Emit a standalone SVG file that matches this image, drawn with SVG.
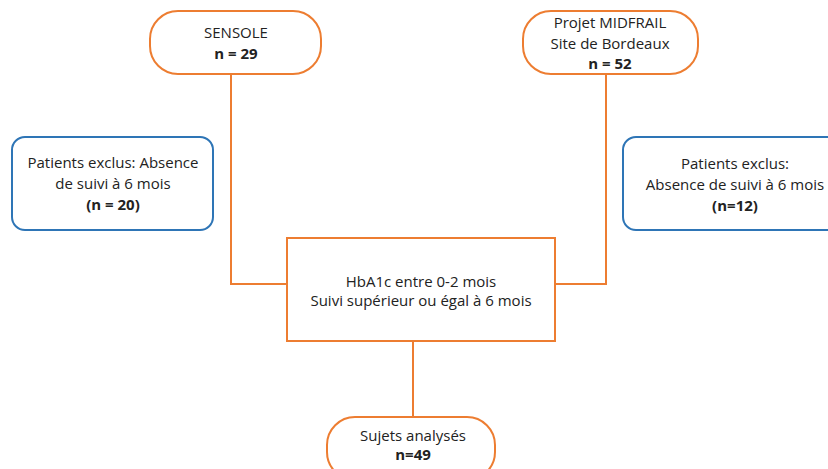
<svg xmlns="http://www.w3.org/2000/svg" width="828" height="469" viewBox="0 0 828 469">
<style>
.o{fill:#fff;stroke:#ED7D31;stroke-width:2}
.b{fill:#fff;stroke:#2E75B6;stroke-width:2}
.c{fill:none;stroke:#ED7D31;stroke-width:2}
text{font-family:"Open Sans","Liberation Sans",sans-serif;font-size:15px;fill:#222;text-anchor:middle}
.bd{font-weight:bold}
</style>
<rect width="828" height="469" fill="#fff"/>
<g id="connectors">
<path class="c" d="M231 74 V284 H287"/>
<path class="c" d="M606 74 V284 H555"/>
<path class="c" d="M413 341 V417"/>
</g>
<g id="sensole">
<rect class="o" x="150" y="11" width="171" height="63" rx="28"/>
<text x="236" y="38">SENSOLE</text>
<text x="236" y="59" class="bd">n = 29</text>
</g>
<g id="midfrail">
<rect class="o" x="523" y="11" width="175" height="63" rx="28"/>
<text x="610" y="28">Projet MIDFRAIL</text>
<text x="610" y="49">Site de Bordeaux</text>
<text x="610" y="69" class="bd">n = 52</text>
</g>
<g id="excl-left">
<rect class="b" x="12" y="137" width="201" height="93" rx="13"/>
<text x="113" y="168">Patients exclus: Absence</text>
<text x="113" y="189">de suivi à 6 mois</text>
<text x="113" y="210" class="bd">(n = 20)</text>
</g>
<g id="excl-right">
<rect class="b" x="623" y="137" width="224" height="93" rx="13"/>
<text x="735" y="169">Patients exclus:</text>
<text x="735" y="190">Absence de suivi à 6 mois</text>
<text x="735" y="211" class="bd">(n=12)</text>
</g>
<g id="criteria">
<rect class="o" x="287" y="238" width="268" height="103"/>
<text x="421" y="287">HbA1c entre 0-2 mois</text>
<text x="421" y="306">Suivi supérieur ou égal à 6 mois</text>
</g>
<g id="analyses">
<rect class="o" x="327" y="417" width="168" height="63" rx="28"/>
<text x="413" y="441">Sujets analysés</text>
<text x="413" y="460" class="bd">n=49</text>
</g>
</svg>
